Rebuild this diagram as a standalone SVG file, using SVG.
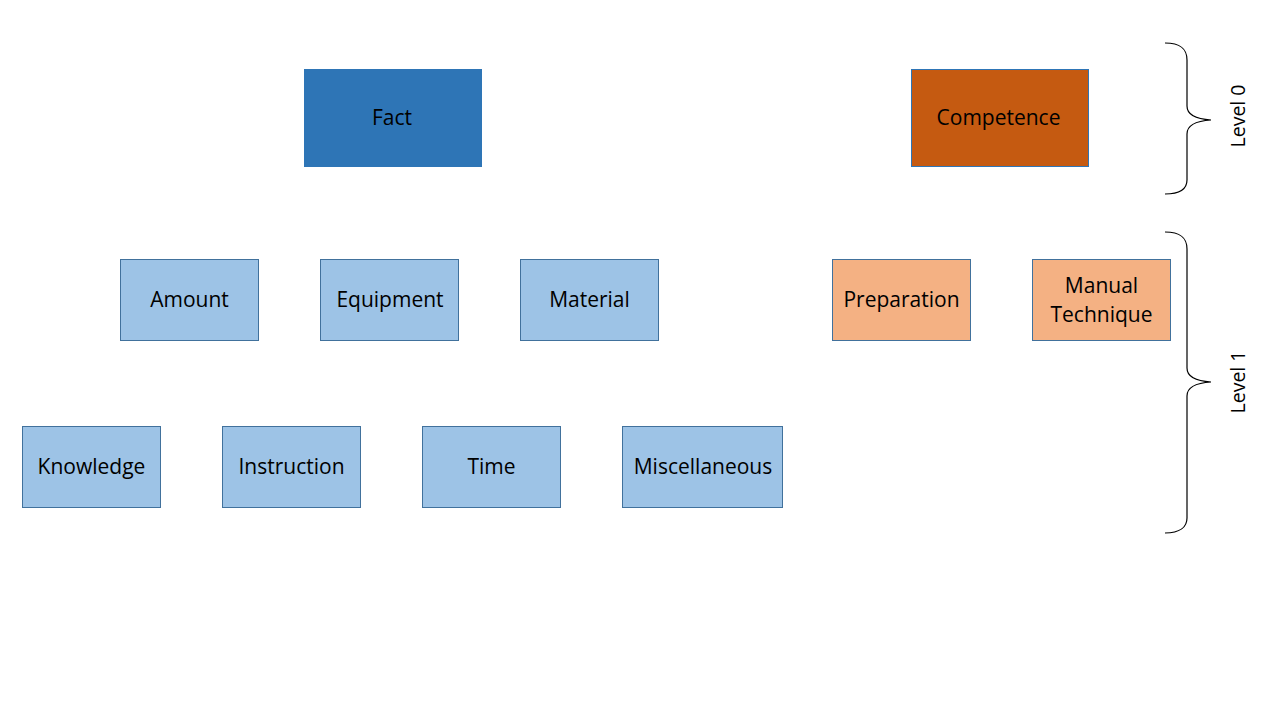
<svg xmlns="http://www.w3.org/2000/svg" width="1280" height="720" viewBox="0 0 1280 720">
<style>
text{font-family:"Open Sans","Noto Sans",sans-serif;font-size:21px;fill:#000;text-anchor:middle}
.dark{fill:#2E75B6;stroke:#2E75B6;stroke-width:1}
.comp{fill:#C55A11;stroke:#2E75B6;stroke-width:1}
.lb{fill:#9DC3E6;stroke:#41719C;stroke-width:1}
.lo{fill:#F4B183;stroke:#41719C;stroke-width:1}
.brace{fill:none;stroke:#000;stroke-width:1.2}
.lvl{font-size:19.5px}
</style>
<rect width="1280" height="720" fill="#fff"/>
<g id="fact"><rect class="dark" x="304.5" y="69.5" width="177" height="97"/><text x="392" y="124.5">Fact</text></g>
<g id="competence"><rect class="comp" x="911.5" y="69.5" width="177" height="97"/><text x="998.5" y="124.5">Competence</text></g>
<g id="amount"><rect class="lb" x="120.5" y="259.5" width="138" height="81"/><text x="189.5" y="307">Amount</text></g>
<g id="equipment"><rect class="lb" x="320.5" y="259.5" width="138" height="81"/><text x="390" y="307">Equipment</text></g>
<g id="material"><rect class="lb" x="520.5" y="259.5" width="138" height="81"/><text x="589.5" y="307">Material</text></g>
<g id="preparation"><rect class="lo" x="832.5" y="259.5" width="138" height="81"/><text x="901.5" y="307">Preparation</text></g>
<g id="manual-technique"><rect class="lo" x="1032.5" y="259.5" width="138" height="81"/><text x="1101.5" y="293">Manual</text><text x="1101.5" y="322">Technique</text></g>
<g id="knowledge"><rect class="lb" x="22.5" y="426.5" width="138" height="81"/><text x="91.5" y="474">Knowledge</text></g>
<g id="instruction"><rect class="lb" x="222.5" y="426.5" width="138" height="81"/><text x="291.5" y="474">Instruction</text></g>
<g id="time"><rect class="lb" x="422.5" y="426.5" width="138" height="81"/><text x="491.5" y="474">Time</text></g>
<g id="miscellaneous"><rect class="lb" x="622.5" y="426.5" width="160" height="81"/><text x="703" y="474">Miscellaneous</text></g>
<g id="connectors">
<path class="brace" d="M1165,43 C1180,43 1187,48 1187,60 L1187,106 C1187,114 1195,119 1211,120 C1195,121 1187,126 1187,134 L1187,180 C1187,189 1180,194 1165,194"/>
<path class="brace" d="M1165,232 C1180,232 1187,237 1187,249 L1187,368 C1187,376 1195,381 1211,382 C1195,383 1187,388 1187,396 L1187,518 C1187,527 1180,533 1165,533"/>
</g>
<g id="level0"><text class="lvl" transform="translate(1245,116) rotate(-90)">Level 0</text></g>
<g id="level1"><text class="lvl" transform="translate(1245,382) rotate(-90)">Level 1</text></g>
</svg>
